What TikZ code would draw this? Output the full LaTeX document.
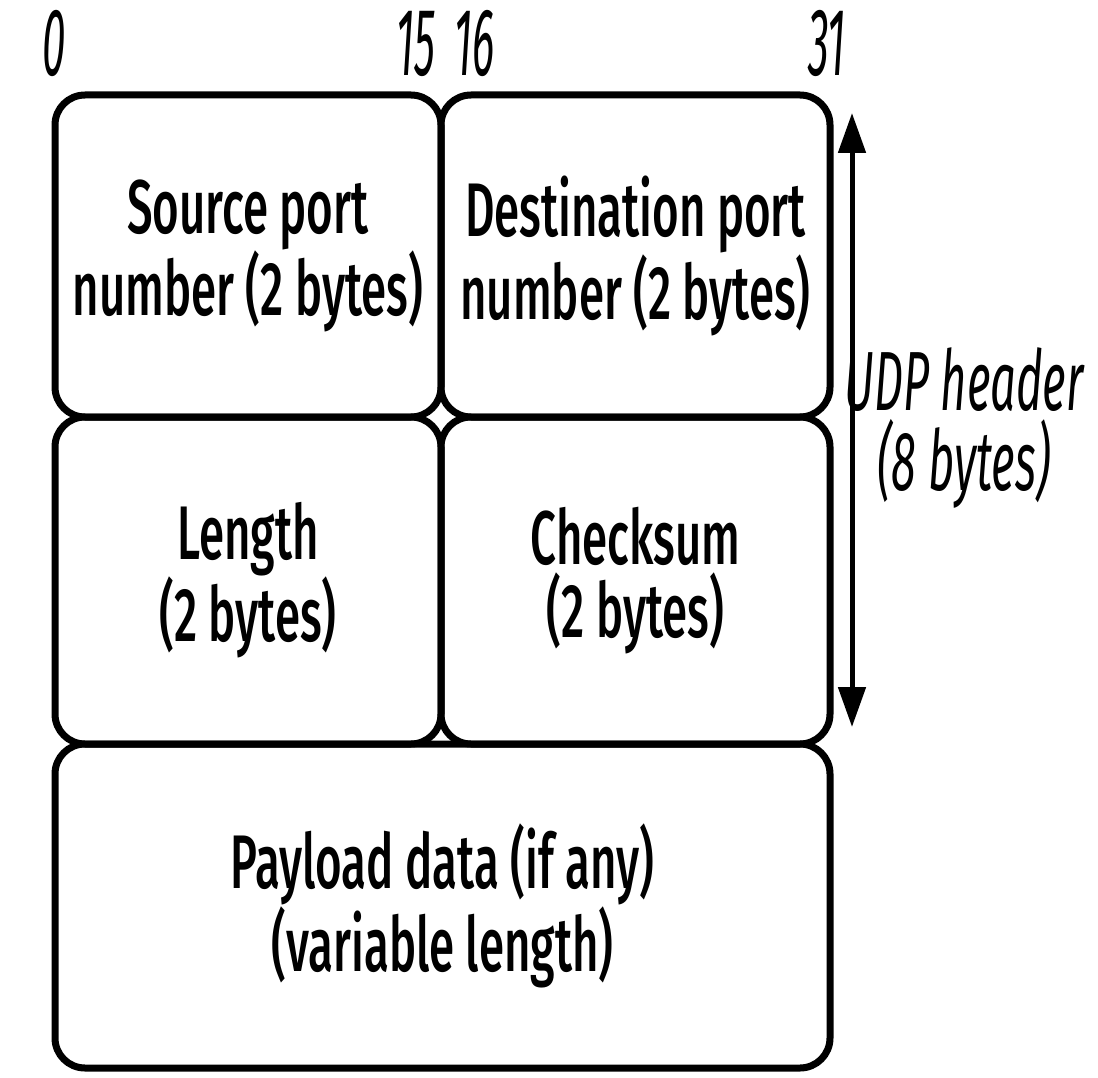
\documentclass[tikz,border=0pt]{standalone}
\usepackage{fontspec}
\setmainfont{Fira Sans}[FakeStretch=0.6, UprightFont=* Medium, ItalicFont=* Italic]
\newfontfamily\udpfont{Fira Sans}[FakeStretch=0.54, UprightFont=* Italic]
\newfontfamily\numfont{Fira Sans}[FakeStretch=0.44, UprightFont=* Italic, Numbers=Lining]
\usetikzlibrary{arrows.meta}
\begin{document}
\begin{tikzpicture}[x=1pt,y=-1pt]
\tikzset{
  field/.style={draw, line width=7pt, rounded corners=30pt, inner sep=0pt,
    align=center, font=\fontsize{76}{73}\selectfont},
  bitlabel/.style={inner sep=0pt, font=\numfont\fontsize{96}{96}\selectfont},
}
\useasboundingbox (0,0) rectangle (1098,1078);
\node[field, minimum width=386pt, minimum height=322pt] (src) at (248,256) {Source port\\number (2 bytes)};
\node[field, minimum width=389pt, minimum height=322pt] (dst) at (635.5,256) {Destination port\\number (2 bytes)};
\node[field, minimum width=386pt, minimum height=327pt] (len) at (248,580.5) {Length\\(2 bytes)};
\node[field, minimum width=389pt, minimum height=327pt] (chk) at (635.5,580.5) {Checksum\\(2 bytes)};
\node[field, minimum width=775pt, minimum height=324pt] (pay) at (442.5,906) {Payload data (if any)\\(variable length)};
\node[bitlabel, anchor=base west] (b0) at (42,76) {0};
\node[bitlabel, anchor=base east] (b15) at (436,76) {15};
\node[bitlabel, anchor=base west] (b16) at (454,76) {16};
\node[bitlabel, anchor=base east] (b31) at (846,76) {31};
\coordinate (atop) at (852,113);
\coordinate (abot) at (852,727);
\draw[line width=5pt, {Triangle[length=40pt,width=27pt]}-{Triangle[length=40pt,width=27pt]}] (atop) -- (abot);
\node[inner sep=0pt, align=center, font=\udpfont\fontsize{84}{80}\selectfont] (udp) at (964,428) {UDP header\\(8 bytes)};
\end{tikzpicture}
\end{document}
